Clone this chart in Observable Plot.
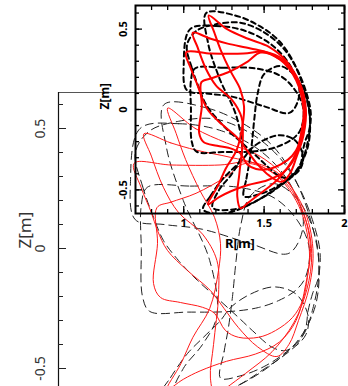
<!DOCTYPE html>
<html><head><meta charset="utf-8">
<script src="https://cdn.jsdelivr.net/npm/d3@7"></script>
<script src="https://cdn.jsdelivr.net/npm/@observablehq/plot@0.6"></script>
<style>
body{margin:0;background:#fff;font-family:"Liberation Sans",Arial,sans-serif;}
#wrap{position:relative;width:348px;height:386px;overflow:hidden;background:#fff;}
#main,#inset{position:absolute;left:0;top:0;}
</style></head><body><div id="wrap"><div id="main"></div><div id="inset"></div></div>
<script>
// Boundary shapes (R [m], Z [m]) — dashed black (before) and red (after)
const dash1 = [[1.07,0.255],[1.25,0.26],[1.45,0.255],[1.60,0.21],[1.70,0.11],[1.745,0.0],[1.729,-0.12],[1.6875,-0.175],[1.617,-0.217],[1.533,-0.246],[1.42,-0.262],[1.24,-0.265],[1.08,-0.262],[1.05,-0.2],[1.045,0.0],[1.045,0.18]];
const dash2 = [[1.14,0.60],[1.32,0.585],[1.47,0.52],[1.59,0.43],[1.68,0.30],[1.75,0.12],[1.785,-0.06],[1.77,-0.24],[1.70,-0.38],[1.58,-0.49],[1.45,-0.57],[1.32,-0.62],[1.18,-0.61],[1.22,-0.50],[1.30,-0.40],[1.36,-0.28],[1.33,-0.05],[1.22,0.20],[1.15,0.42]];
const dash3 = [[1.02,0.40],[1.05,0.26],[1.096,0.13],[1.1375,0.033],[1.2,-0.05],[1.279,-0.133],[1.3625,-0.208],[1.45,-0.2875],[1.508,-0.342],[1.592,-0.4125],[1.646,-0.425],[1.70,-0.39],[1.73,-0.33],[1.74,-0.26],[1.758,-0.19],[1.783,-0.12],[1.79,-0.02],[1.77,0.08],[1.71,0.24],[1.62,0.38],[1.50,0.48],[1.35,0.54],[1.20,0.53],[1.08,0.49]];
const dash4 = [[1.04,0.50],[1.20,0.52],[1.38,0.49],[1.55,0.40],[1.67,0.26],[1.72,0.10],[1.66,-0.02],[1.50,0.02],[1.30,0.08],[1.14,0.10],[1.02,0.12],[1.00,0.28]];
const dash5 = [[1.375,-0.54],[1.39,-0.43],[1.408,-0.33],[1.425,-0.2],[1.44,-0.05],[1.46,0.10],[1.50,0.22],[1.60,0.27],[1.70,0.20],[1.77,0.05],[1.785,-0.10],[1.76,-0.25],[1.72,-0.36],[1.65,-0.43],[1.56,-0.49],[1.46,-0.53]];
const dash6 = [[1.12,-0.62],[1.167,-0.5375],[1.2375,-0.4375],[1.304,-0.37],[1.375,-0.30],[1.417,-0.246],[1.50,-0.19],[1.60,-0.16],[1.69,-0.19],[1.74,-0.28],[1.73,-0.36],[1.66,-0.43],[1.56,-0.50],[1.45,-0.57],[1.32,-0.63],[1.20,-0.65]];
const red1 = [[1.155,0.585],[1.27,0.50],[1.40,0.44],[1.53,0.39],[1.64,0.30],[1.72,0.15],[1.75,0.0],[1.73,-0.15],[1.69,-0.30],[1.62,-0.39],[1.52,-0.44],[1.40,-0.47],[1.29,-0.51],[1.22,-0.545],[1.15,-0.59],[1.21,-0.48],[1.26,-0.37],[1.33,-0.25],[1.367,-0.09],[1.375,0.02],[1.35,0.13],[1.29,0.24],[1.23,0.37],[1.19,0.48]];
const red2 = [[1.056,0.478],[1.168,0.44],[1.273,0.41],[1.416,0.38],[1.53,0.35],[1.65,0.27],[1.73,0.12],[1.755,-0.02],[1.735,-0.17],[1.68,-0.31],[1.59,-0.43],[1.48,-0.52],[1.40,-0.58],[1.354,-0.615],[1.333,-0.54],[1.346,-0.40],[1.367,-0.19],[1.36,-0.05],[1.30,0.06],[1.20,0.15],[1.137,0.255],[1.087,0.385]];
const red3 = [[1.015,0.355],[1.168,0.348],[1.373,0.348],[1.50,0.36],[1.62,0.31],[1.72,0.17],[1.76,0.0],[1.745,-0.16],[1.70,-0.30],[1.66,-0.40],[1.61,-0.45],[1.53,-0.41],[1.45,-0.33],[1.39,-0.25],[1.333,-0.175],[1.2375,-0.092],[1.154,-0.008],[1.1125,0.075],[1.087,0.149],[1.044,0.255]];
const red4 = [[1.11,0.17],[1.168,0.193],[1.273,0.23],[1.40,0.30],[1.478,0.354],[1.60,0.31],[1.70,0.18],[1.745,0.0],[1.737,-0.12],[1.717,-0.217],[1.675,-0.2875],[1.604,-0.342],[1.533,-0.37],[1.45,-0.37],[1.396,-0.342],[1.35,-0.27],[1.30,-0.245],[1.208,-0.225],[1.125,-0.204],[1.096,-0.146],[1.1125,0.02]];

const zMajor = [-0.5, 0, 0.5];
const zMinor = [-0.5,-0.4,-0.3,-0.2,-0.1,0,0.1,0.2,0.3,0.4,0.5,0.6];
const rMajor = [1, 1.5, 2];
const rMinor = [0.8,0.9,1.0,1.1,1.2,1.3,1.4,1.5,1.6,1.7,1.8,1.9,2.0];
const zInsetMinor = [-0.6,-0.5,-0.4,-0.3,-0.2,-0.1,0,0.1,0.2,0.3,0.4,0.5,0.6];

const toRows = (shapes) => shapes.flatMap((pts, i) => pts.map(([r, z]) => ({id: i, r, z})));
const dashRows = toRows([dash1, dash2, dash3, dash4, dash5, dash6]);
const redRows = toRows([red1, red2, red3, red4]);

// Main (zoomed) view: 240 px per metre
const mainPx = 240;
const main = Plot.plot({
  width: 348, height: 386,
  marginLeft: 58, marginTop: 92, marginRight: 0, marginBottom: 0,
  style: {background: "transparent", overflow: "hidden"},
  x: {domain: [0.7, 0.7 + 290 / mainPx], axis: null, label: null},
  y: {domain: [0.65 - 294 / mainPx, 0.65], label: null},
  marks: [
    Plot.line(dashRows, {x: "r", y: "z", z: "id", curve: "catmull-rom-closed", stroke: "#222", strokeWidth: 1, strokeDasharray: "8,5", clip: true}),
    Plot.line(redRows, {x: "r", y: "z", z: "id", curve: "catmull-rom-closed", stroke: "#ff1a1a", strokeWidth: 1, clip: true}),
    Plot.ruleY([0.65], {stroke: "#555", strokeWidth: 1}),
    Plot.ruleX([0.7], {stroke: "#111", strokeWidth: 1.2}),
    Plot.axisY({ticks: zMinor, tickSize: -5, tickFormat: () => "", stroke: "#222", label: null}),
    Plot.axisY({ticks: zMajor, tickSize: -8, tickFormat: () => "", stroke: "#222", label: null}),
    Plot.axisY({ticks: zMajor, tickSize: 0, tickPadding: 18, rotate: -90, textAnchor: "middle", fontSize: 14, fill: "#333", tickFormat: d => String(d), label: null}),
    Plot.text(["Z[m]"], {frameAnchor: "left", rotate: -90, dx: -33, dy: 9, fontSize: 17, fill: "#333"})
  ]
});
document.getElementById("main").appendChild(main);

// Inset (full view): ~161 px per metre
const inset = Plot.plot({
  width: 348, height: 260,
  marginLeft: 135, marginTop: 5, marginRight: 4, marginBottom: 47,
  style: {background: "transparent", overflow: "visible"},
  x: {domain: [0.70, 2.0], label: null},
  y: {domain: [-0.647, 0.647], label: null},
  marks: [
    Plot.line(dashRows, {x: "r", y: "z", z: "id", curve: "catmull-rom-closed", stroke: "#000", strokeWidth: 2, strokeDasharray: "5,3.5", clip: true}),
    Plot.line(redRows, {x: "r", y: "z", z: "id", curve: "catmull-rom-closed", stroke: "#ff0000", strokeWidth: 2, clip: true}),
    Plot.frame({stroke: "#000", strokeWidth: 2}),
    Plot.axisX({ticks: rMinor, anchor: "bottom", tickSize: -4, tickFormat: () => "", strokeWidth: 1.3, label: null}),
    Plot.axisX({ticks: rMajor, anchor: "bottom", tickSize: -7, tickFormat: () => "", strokeWidth: 1.3, label: null}),
    Plot.axisX({ticks: rMinor, anchor: "top", tickSize: -4, tickFormat: () => "", strokeWidth: 1.3, label: null}),
    Plot.axisX({ticks: rMajor, anchor: "top", tickSize: -7, tickFormat: () => "", strokeWidth: 1.3, label: null}),
    Plot.axisY({ticks: zInsetMinor, anchor: "left", tickSize: -4, tickFormat: () => "", strokeWidth: 1.3, label: null}),
    Plot.axisY({ticks: zMajor, anchor: "left", tickSize: -7, tickFormat: () => "", strokeWidth: 1.3, label: null}),
    Plot.axisY({ticks: zInsetMinor, anchor: "right", tickSize: -4, tickFormat: () => "", strokeWidth: 1.3, label: null}),
    Plot.axisY({ticks: zMajor, anchor: "right", tickSize: -7, tickFormat: () => "", strokeWidth: 1.3, label: null}),
    Plot.axisX({ticks: rMajor, anchor: "bottom", tickSize: 0, tickPadding: 6, fontSize: 11, fontWeight: "bold", fill: "#000", tickFormat: d => String(d), label: null}),
    Plot.axisY({ticks: zMajor, anchor: "left", tickSize: 0, tickPadding: 12, rotate: -90, textAnchor: "middle", fontSize: 11, fontWeight: "bold", fill: "#000", tickFormat: d => String(d), label: null}),
    Plot.text(["R[m]"], {frameAnchor: "bottom", dy: 34, fontSize: 13, fontWeight: "bold", fill: "#000"}),
    Plot.text(["Z[m]"], {frameAnchor: "left", rotate: -90, dx: -30, fontSize: 12, fontWeight: "bold", fill: "#000"})
  ]
});
document.getElementById("inset").appendChild(inset);
</script>
</body></html>
